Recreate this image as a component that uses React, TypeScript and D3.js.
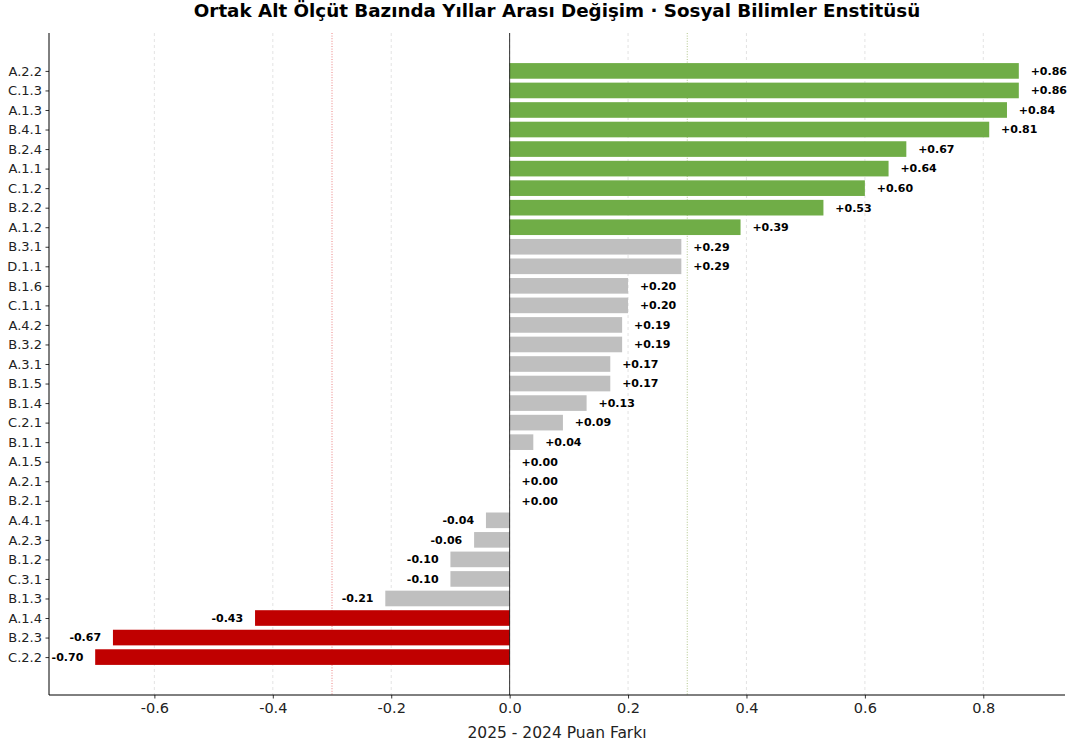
import React, { useEffect, useRef } from 'react';
import * as d3 from 'd3';

const categories = [
  'A.2.2', 'C.1.3', 'A.1.3', 'B.4.1', 'B.2.4', 'A.1.1', 'C.1.2', 'B.2.2', 'A.1.2',
  'B.3.1', 'D.1.1', 'B.1.6', 'C.1.1', 'A.4.2', 'B.3.2', 'A.3.1', 'B.1.5', 'B.1.4',
  'C.2.1', 'B.1.1', 'A.1.5', 'A.2.1', 'B.2.1', 'A.4.1', 'A.2.3', 'B.1.2', 'C.3.1',
  'B.1.3', 'A.1.4', 'B.2.3', 'C.2.2',
];
const diffs = [
  0.86, 0.86, 0.84, 0.81, 0.67, 0.64, 0.60, 0.53, 0.39,
  0.29, 0.29, 0.20, 0.20, 0.19, 0.19, 0.17, 0.17, 0.13,
  0.09, 0.04, 0.0, 0.0, 0.0, -0.04, -0.06, -0.10, -0.10,
  -0.21, -0.43, -0.67, -0.70,
];
const xTicks = [-0.6, -0.4, -0.2, 0.0, 0.2, 0.4, 0.6, 0.8];
const threshold = 0.3;

const WIDTH = 1070;
const HEIGHT = 749;
const FONT = 'DejaVu Sans, sans-serif';

const colorFor = (v: number) => (v >= threshold ? '#70AD47' : v <= -threshold ? '#C00000' : '#BFBFBF');

const App: React.FC = () => {
  const svgRef = useRef<SVGSVGElement>(null);

  useEffect(() => {
    if (!svgRef.current) return;
    const svg = d3.select(svgRef.current);
    svg.selectAll('*').remove();

    const margin = { top: 33, right: 5, bottom: 54, left: 49 };
    const innerWidth = WIDTH - margin.left - margin.right;
    const innerHeight = HEIGHT - margin.top - margin.bottom;

    const g = svg.append('g').attr('transform', `translate(${margin.left},${margin.top})`);

    // matplotlib-style 5% margins on the data range
    const xmin = d3.min(diffs)!;
    const xmax = d3.max(diffs)!;
    const pad = (xmax - xmin) * 0.05;
    const x = d3.scaleLinear().domain([xmin - pad, xmax + pad]).range([0, innerWidth]);

    const n = categories.length;
    const barH = 0.8;
    const ySpan = n - 1 + barH;
    const yPad = ySpan * 0.05;
    const y = d3.scaleLinear()
      .domain([-barH / 2 - yPad, n - 1 + barH / 2 + yPad])
      .range([0, innerHeight]);
    const unit = y(1) - y(0);

    // grid
    g.selectAll('line.grid')
      .data(xTicks)
      .enter()
      .append('line')
      .attr('x1', d => x(d))
      .attr('x2', d => x(d))
      .attr('y1', 0)
      .attr('y2', innerHeight)
      .attr('stroke', '#b0b0b0')
      .attr('stroke-opacity', 0.45)
      .attr('stroke-width', 0.8)
      .attr('stroke-dasharray', '3,3');

    // threshold lines
    [[-threshold, '#e03030'], [threshold, '#7fa040']].forEach(([v, c]) => {
      g.append('line')
        .attr('x1', x(v as number))
        .attr('x2', x(v as number))
        .attr('y1', 0)
        .attr('y2', innerHeight)
        .attr('stroke', c as string)
        .attr('stroke-opacity', 0.6)
        .attr('stroke-width', 1)
        .attr('stroke-dasharray', '1,1.6');
    });

    // bars
    g.selectAll('rect.bar')
      .data(diffs)
      .enter()
      .append('rect')
      .attr('x', d => x(Math.min(0, d)))
      .attr('width', d => Math.abs(x(d) - x(0)))
      .attr('y', (_, i) => y(i - barH / 2))
      .attr('height', barH * unit)
      .attr('fill', d => colorFor(d));

    // zero line
    g.append('line')
      .attr('x1', x(0))
      .attr('x2', x(0))
      .attr('y1', 0)
      .attr('y2', innerHeight)
      .attr('stroke', 'black')
      .attr('stroke-width', 0.8);

    // value labels
    g.selectAll('text.val')
      .data(diffs)
      .enter()
      .append('text')
      .attr('x', d => (d >= 0 ? x(d + 0.02) : x(d - 0.02)))
      .attr('y', (_, i) => y(i))
      .attr('dy', '0.35em')
      .attr('text-anchor', d => (d >= 0 ? 'start' : 'end'))
      .style('font-family', FONT)
      .style('font-size', '11px')
      .style('font-weight', 'bold')
      .style('fill', 'black')
      .text(d => (d >= 0 ? `+${d.toFixed(2)}` : d.toFixed(2)));

    // y axis
    const yAxis = g.append('g')
      .call(
        d3.axisLeft(y)
          .tickValues(d3.range(n))
          .tickFormat(i => categories[i as number])
          .tickSize(3.5)
          .tickPadding(3.5)
      );
    yAxis.select('.domain').attr('d', `M0,0V${innerHeight}`).attr('stroke-width', 1);
    yAxis.selectAll('text').style('font-family', FONT).style('font-size', '13px').style('fill', '#222');
    yAxis.selectAll('line').attr('stroke-width', 0.8);

    // x axis
    const xAxis = g.append('g')
      .attr('transform', `translate(0,${innerHeight})`)
      .call(
        d3.axisBottom(x)
          .tickValues(xTicks)
          .tickFormat(d => (d as number).toFixed(1))
          .tickSize(3.5)
          .tickPadding(4)
      );
    xAxis.select('.domain').attr('d', `M0,0H${innerWidth}`).attr('stroke-width', 1);
    xAxis.selectAll('text').style('font-family', FONT).style('font-size', '14.5px').style('fill', '#222');
    xAxis.selectAll('line').attr('stroke-width', 0.8);

    // x label
    svg.append('text')
      .attr('x', margin.left + innerWidth / 2)
      .attr('y', HEIGHT - 11)
      .attr('text-anchor', 'middle')
      .style('font-family', FONT)
      .style('font-size', '15.5px')
      .style('fill', '#222')
      .text('2025 - 2024 Puan Farkı');

    // title
    svg.append('text')
      .attr('x', margin.left + innerWidth / 2)
      .attr('y', 17)
      .attr('text-anchor', 'middle')
      .style('font-family', FONT)
      .style('font-size', '18.3px')
      .style('font-weight', 'bold')
      .style('fill', 'black')
      .text('Ortak Alt Ölçüt Bazında Yıllar Arası Değişim · Sosyal Bilimler Enstitüsü');
  }, []);

  return (
    <svg
      ref={svgRef}
      width={WIDTH}
      height={HEIGHT}
      style={{ position: 'absolute', left: 0, top: 0, background: 'white' }}
    />
  );
};

export default App;
